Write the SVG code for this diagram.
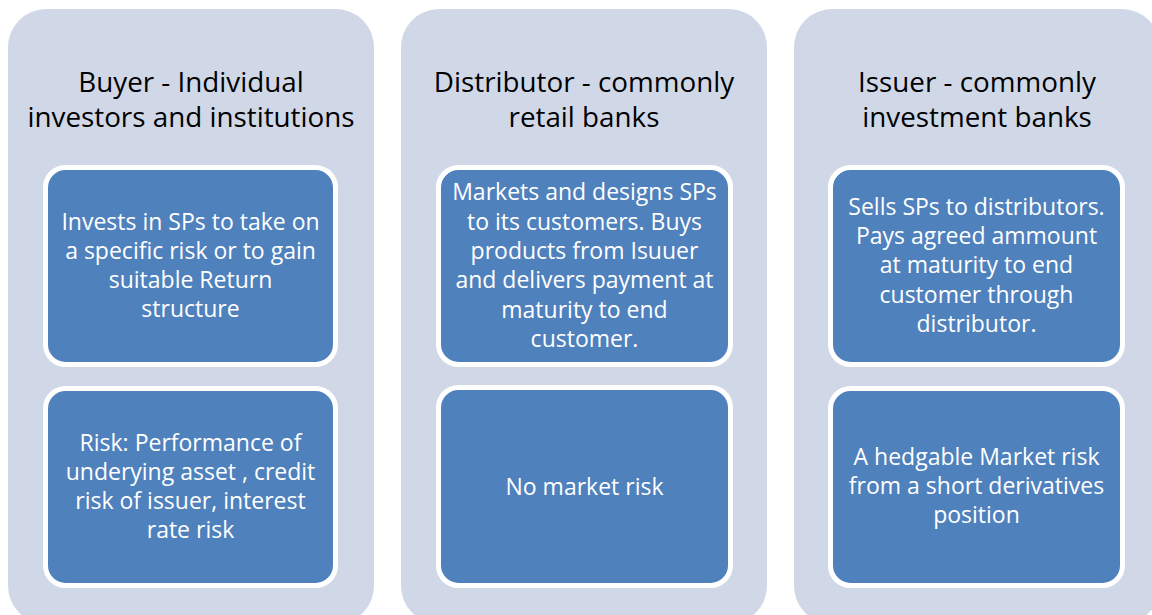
<svg xmlns="http://www.w3.org/2000/svg" width="1152" height="615" viewBox="0 0 1152 615">
  <style>
    .panel { fill: #D0D8E8; }
    .box { fill: #4F81BD; stroke: #FFFFFF; stroke-width: 5; }
    .title { font-family: "Open Sans", "Noto Sans", sans-serif; font-size: 27.8px; fill: #000000; text-anchor: middle; }
    .body { font-family: "Open Sans", "Noto Sans", sans-serif; font-size: 23px; fill: #FFFFFF; text-anchor: middle; }
  </style>
  <rect width="1152" height="615" fill="#FFFFFF"/>

  <!-- Buyer column -->
  <g id="buyer">
    <rect class="panel" x="8" y="9" width="366" height="615" rx="38" ry="38"/>
    <text class="title"><tspan x="191" y="92">Buyer - Individual</tspan><tspan x="191" y="127">investors and institutions</tspan></text>
  </g>
  <g id="buyer-role">
    <rect class="box" x="45.5" y="167.5" width="290" height="197" rx="20" ry="20"/>
    <text class="body"><tspan x="190.5" y="230">Invests in SPs to take on</tspan><tspan x="190.5" y="259">a specific risk or to gain</tspan><tspan x="190.5" y="288">suitable Return</tspan><tspan x="190.5" y="317">structure</tspan></text>
  </g>
  <g id="buyer-risk">
    <rect class="box" x="45.5" y="388.5" width="290" height="197" rx="20" ry="20"/>
    <text class="body"><tspan x="190.5" y="451">Risk: Performance of</tspan><tspan x="190.5" y="480">underying asset , credit</tspan><tspan x="190.5" y="509">risk of issuer, interest</tspan><tspan x="190.5" y="538">rate risk</tspan></text>
  </g>

  <!-- Distributor column -->
  <g id="distributor">
    <rect class="panel" x="401" y="9" width="366" height="615" rx="38" ry="38"/>
    <text class="title"><tspan x="584" y="92">Distributor - commonly</tspan><tspan x="584" y="127">retail banks</tspan></text>
  </g>
  <g id="distributor-role">
    <rect class="box" x="438.5" y="167.5" width="292" height="197" rx="20" ry="20"/>
    <text class="body"><tspan x="584.5" y="200">Markets and designs SPs</tspan><tspan x="584.5" y="230">to its customers. Buys</tspan><tspan x="584.5" y="259">products from Isuuer</tspan><tspan x="584.5" y="288">and delivers payment at</tspan><tspan x="584.5" y="318">maturity to end</tspan><tspan x="584.5" y="347">customer.</tspan></text>
  </g>
  <g id="distributor-risk">
    <rect class="box" x="438.5" y="387.5" width="292" height="198" rx="20" ry="20"/>
    <text class="body" x="584.5" y="495">No market risk</text>
  </g>

  <!-- Issuer column -->
  <g id="issuer">
    <rect class="panel" x="794" y="9" width="366" height="615" rx="38" ry="38"/>
    <text class="title"><tspan x="977" y="92">Issuer - commonly</tspan><tspan x="977" y="127">investment banks</tspan></text>
  </g>
  <g id="issuer-role">
    <rect class="box" x="830.5" y="167.5" width="292" height="197" rx="20" ry="20"/>
    <text class="body"><tspan x="976.5" y="215">Sells SPs to distributors.</tspan><tspan x="976.5" y="244">Pays agreed ammount</tspan><tspan x="976.5" y="273">at maturity to end</tspan><tspan x="976.5" y="303">customer through</tspan><tspan x="976.5" y="332">distributor.</tspan></text>
  </g>
  <g id="issuer-risk">
    <rect class="box" x="830.5" y="388.5" width="292" height="197" rx="20" ry="20"/>
    <text class="body"><tspan x="976.5" y="465">A hedgable Market risk</tspan><tspan x="976.5" y="494">from a short derivatives</tspan><tspan x="976.5" y="523">position</tspan></text>
  </g>

  <!-- no connectors are drawn between the columns -->
  <g id="connectors"/>
</svg>
